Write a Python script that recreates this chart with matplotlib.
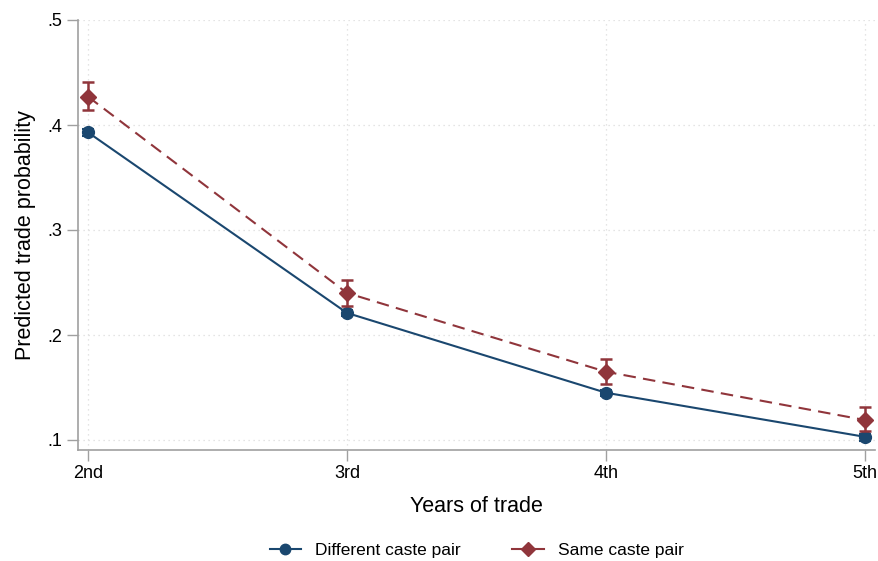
import numpy as np
import matplotlib.pyplot as plt
from matplotlib.lines import Line2D

plt.rcParams['font.family'] = ['Liberation Sans', 'DejaVu Sans']

# data
years = ['2nd', '3rd', '4th', '5th']
diff_caste = [0.393, 0.221, 0.145, 0.103]
diff_lo = [0.390, 0.218, 0.142, 0.099]
diff_hi = [0.396, 0.224, 0.148, 0.106]
same_caste = [0.427, 0.240, 0.165, 0.119]
same_lo = [0.414, 0.228, 0.153, 0.109]
same_hi = [0.441, 0.252, 0.177, 0.131]

blue = '#1a476f'
red = '#90353b'
grey = '#a0a0a0'

x = np.arange(len(years))

fig = plt.figure(figsize=(8.79, 5.61), dpi=100)
ax = fig.add_axes([78/879, 1 - 450/561, 797/879, 430/561])

ax.errorbar(x, diff_caste,
            yerr=[np.array(diff_caste) - np.array(diff_lo), np.array(diff_hi) - np.array(diff_caste)],
            color=blue, marker='o', markersize=8.5, linewidth=1.5, capsize=4, elinewidth=1.5,
            capthick=1.5, zorder=3)
ax.errorbar(x, same_caste,
            yerr=[np.array(same_caste) - np.array(same_lo), np.array(same_hi) - np.array(same_caste)],
            color=red, marker='D', markersize=8, linewidth=1.5, linestyle=(0, (6, 3.5)),
            capsize=4, elinewidth=1.8, capthick=1.8, zorder=4)

ax.set_xlim(-10/259, 3 + 10/259)
ax.set_ylim(0.1 - 10/1050, 0.5)
ax.set_xticks(x)
ax.set_xticklabels(years)
yt = [0.1, 0.2, 0.3, 0.4, 0.5]
ax.set_yticks(yt)
ax.set_yticklabels(['.1', '.2', '.3', '.4', '.5'])

ax.grid(True, color='#dcdcdc', linestyle=(0, (1, 3)), linewidth=0.9)
ax.set_axisbelow(True)
for s in ['top', 'right']:
    ax.spines[s].set_visible(False)
for s in ['left', 'bottom']:
    ax.spines[s].set_color(grey)
    ax.spines[s].set_linewidth(1.2)
ax.tick_params(colors='black', labelsize=13, length=8, width=1.0)
ax.tick_params(axis='both', color=grey)
ax.tick_params(axis='x', pad=3)

ax.set_xlabel('Years of trade', fontsize=15.5, labelpad=10)
ax.set_ylabel('Predicted trade probability', fontsize=15.5, labelpad=8)

handles = [Line2D([], [], color=blue, marker='o', markersize=7.5, linewidth=1.5),
           Line2D([], [], color=red, marker='D', markersize=7, linewidth=1.5)]
ax.legend(handles, ['Different caste pair', 'Same caste pair'],
          loc='center', bbox_to_anchor=(0.5, -0.233), ncol=2, frameon=False,
          fontsize=12.5, handlelength=1.8, columnspacing=3.0)

fig.savefig('out.png', dpi=100)
